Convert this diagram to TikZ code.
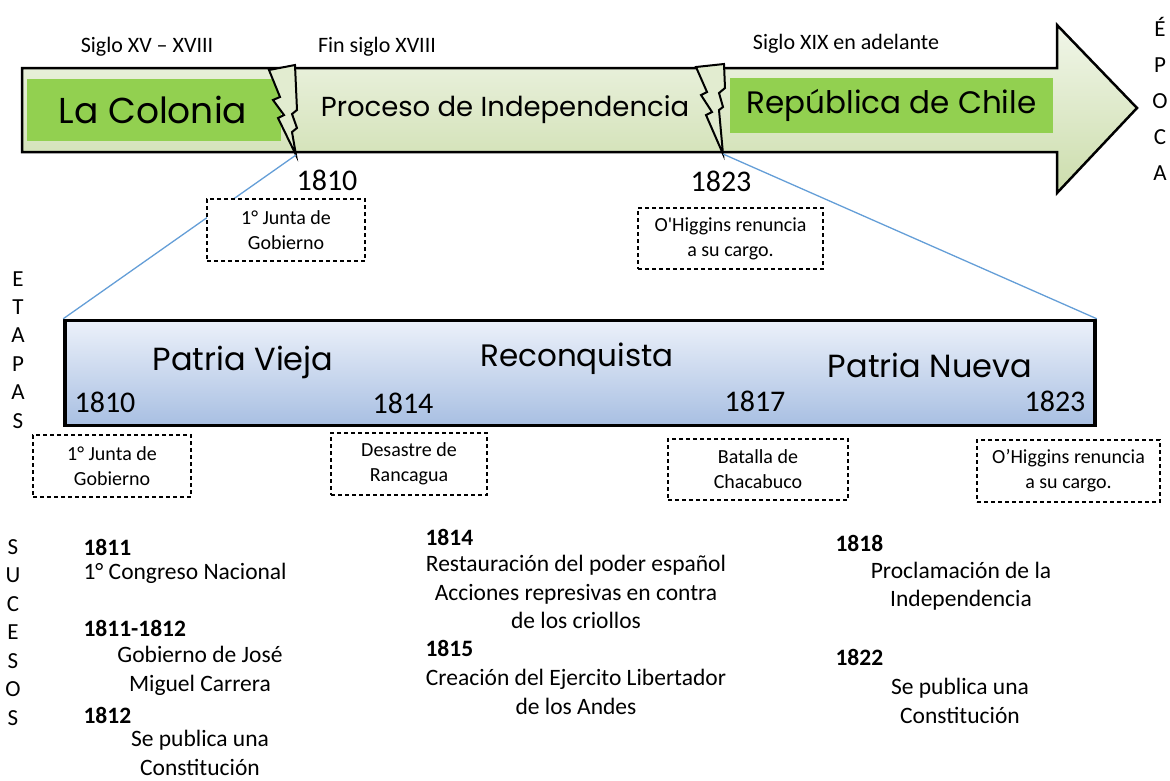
\documentclass[tikz,border=0pt]{standalone}
\usepackage{fontspec}
\setmainfont{Carlito}
\newfontfamily\comicfont{Poppins}
\definecolor{greenbox}{RGB}{146,208,80}
\definecolor{arrowtop}{RGB}{241,246,233}
\definecolor{arrowbot}{RGB}{204,221,172}
\definecolor{boltfill}{RGB}{226,236,208}
\definecolor{bluetop}{RGB}{236,241,250}
\definecolor{bluebot}{RGB}{168,191,226}
\definecolor{linkblue}{RGB}{100,158,215}
\tikzset{
    periodo/.style={fill=greenbox, inner sep=0pt},
    comic/.style={font=\comicfont\fontsize{#1}{#1}\selectfont},
    sigla/.style={font=\fontsize{22}{24}\selectfont},
    anio/.style={font=\fontsize{30}{32}\selectfont},
    hito/.style={draw, dashed, dash pattern=on 4pt off 3pt, line width=1.1pt, fill=white,
        align=center, inner sep=0pt, font=\fontsize{20}{25}\selectfont},
    suceso/.style={font=\fontsize{23.5}{28.5}\selectfont, align=center},
    fecha/.style={font=\bfseries\fontsize{23.5}{28.5}\selectfont, anchor=west},
    letra/.style={font=\fontsize{23}{24}\selectfont, anchor=base},
    enlace/.style={draw=linkblue, line width=1.3pt},
}
\begin{document}
\begin{tikzpicture}[x=1pt, y=-1pt]
    \useasboundingbox (0,0) rectangle (1170,780);

    % flecha de las epocas
    \draw[line width=2.5pt, line join=miter, top color=arrowtop, bottom color=arrowbot]
        (22,68) -- (1057,68) -- (1057,25) -- (1137,108) -- (1057,193) -- (1057,152) -- (22,152) -- cycle;
    \node[periodo, minimum width=254, minimum height=62] (colonia) at (154,109.5) {};
    \node[comic=36] (colonialbl) at (153,110) {La Colonia};
    \node[comic=27.5] (proceso) at (505,110) {Proceso de Independencia};
    \node[periodo, minimum width=323, minimum height=55, comic=31] (republica) at (891.5,105.5) {República de Chile};

    % cortes
    \draw[line width=2pt, line join=miter, fill=boltfill]
        (269,70) -- (295,65) -- (297,110) -- (292,114) -- (297,128) -- (292,132) -- (296,155)
        -- (278,118) -- (284,115) -- (273,100) -- (280,97) -- cycle;
    \draw[line width=2pt, line join=miter, fill=boltfill]
        (696,67) -- (724,64) -- (725,88) -- (719,93) -- (723,107) -- (719,110) -- (723,154)
        -- (706,115) -- (712,112) -- (701,95) -- (707,92) -- cycle;
    \coordinate (corte1) at (296,155);
    \coordinate (corte2) at (723,154);

    \node[sigla] (siglo1) at (147,47) {Siglo XV – XVIII};
    \node[sigla] (siglo2) at (377,47) {Fin siglo XVIII};
    \node[sigla] (siglo3) at (846,44) {Siglo XIX en adelante};
    \foreach \l [count=\i from 0] in {É,P,O,C,A}
        \node[letra] (epoca\i) at (1160, 36+36*\i) {\l};

    % etapas
    \node[draw, line width=3.5pt, top color=bluetop, bottom color=bluebot,
        minimum width=1030, minimum height=105] (etapas) at (580,373) {};
    \draw[enlace] (corte1) -- (etapas.north west);
    \draw[enlace] (corte2) -- (etapas.north east);

    \node[anio] (ini) at (327,180) {1810};
    \node[anio] (fin) at (721,181) {1823};
    \node[hito, minimum width=158, minimum height=62] (junta1) at (286,230) {1° Junta de\\Gobierno};
    \node[hito, minimum width=185, minimum height=61] (renuncia1) at (730.5,238.5) {O\textquotesingle Higgins renuncia\\a su cargo.};

    \node[comic=32] (vieja) at (243,362) {Patria Vieja};
    \node[comic=31] (reconquista) at (577,359) {Reconquista};
    \node[comic=32] (nueva) at (930,365) {Patria Nueva};
    \node[anio] (a1810) at (105,402) {1810};
    \node[anio] (a1814) at (403,403) {1814};
    \node[anio] (a1817) at (755,401) {1817};
    \node[anio] (a1823) at (1055,401) {1823};

    \foreach \l [count=\i from 0] in {E,T,A,P,A,S}
        \node[letra] (etapa\i) at (18, 286+28.4*\i) {\l};

    \node[hito, minimum width=158, minimum height=62] (junta2) at (112,466) {1° Junta de\\Gobierno};
    \node[hito, minimum width=156, minimum height=62] (rancagua) at (409,464) {Desastre de\\Rancagua};
    \node[hito, minimum width=180, minimum height=61] (chacabuco) at (758,469.5) {Batalla de\\Chacabuco};
    \node[hito, minimum width=183, minimum height=62] (renuncia2) at (1068.5,471) {O’Higgins renuncia\\a su cargo.};

    % sucesos
    \foreach \l [count=\i from 0] in {S,U,C,E,S,O,S}
        \node[letra] (suceso\i) at (13, 554+28.5*\i) {\l};

    \node[fecha] (f1811) at (80,547) {1811};
    \node[suceso, anchor=west] (congreso) at (80,573) {1° Congreso Nacional};
    \node[fecha] (f1811b) at (80,628) {1811-1812};
    \node[suceso] (carrera) at (200,671) {Gobierno de José\\Miguel Carrera};
    \node[fecha] (f1812) at (80,715) {1812};
    \node[suceso] (const1) at (200,753) {Se publica una\\Constitución};

    \node[fecha] (f1814) at (422,537) {1814};
    \node[suceso] (restauracion) at (576,592) {Restauración del poder español\\Acciones represivas en contra\\de los criollos};
    \node[fecha] (f1815) at (422,648) {1815};
    \node[suceso] (ejercito) at (576,692) {Creación del Ejercito Libertador\\de los Andes};

    \node[fecha] (f1818) at (832,543) {1818};
    \node[suceso] (proclamacion) at (961,586) {Proclamación de la\\Independencia};
    \node[fecha] (f1822) at (832,657) {1822};
    \node[suceso] (const2) at (960,701) {Se publica una\\Constitución};
\end{tikzpicture}
\end{document}
